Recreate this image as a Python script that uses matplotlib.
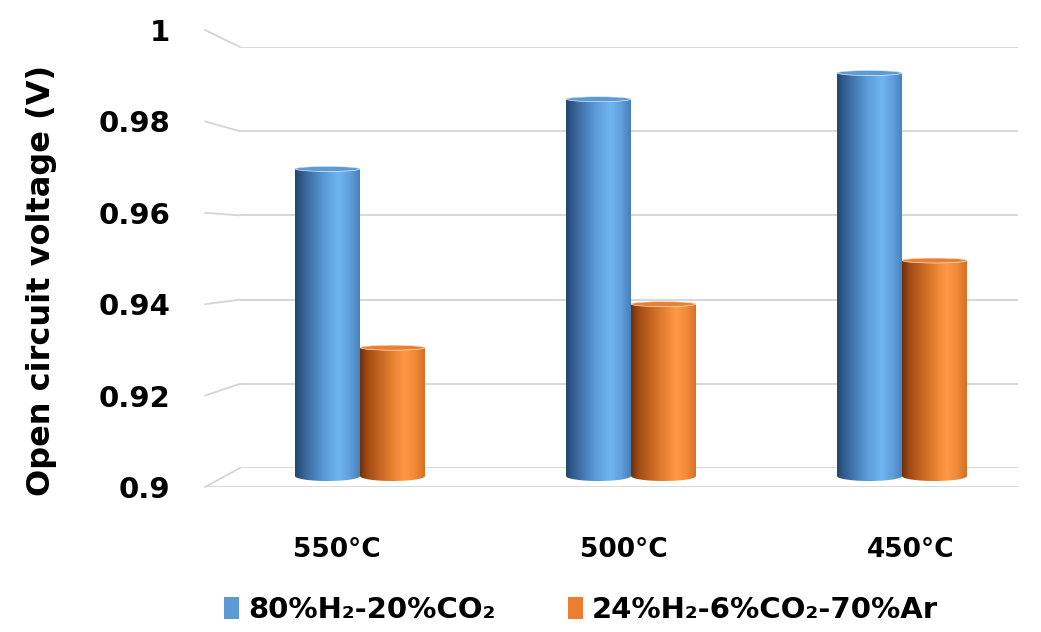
import numpy as np
import matplotlib.pyplot as plt
from matplotlib.colors import LinearSegmentedColormap
from matplotlib.patches import PathPatch, Ellipse, Patch, ConnectionPatch
from matplotlib.path import Path

# datos
temperaturas = ["550°C", "500°C", "450°C"]
ocv_80h2 = [0.971, 0.987, 0.993]
ocv_24h2 = [0.930, 0.940, 0.950]
series = ["80%H₂-20%CO₂", "24%H₂-6%CO₂-70%Ar"]
yticks = [0.9, 0.92, 0.94, 0.96, 0.98, 1.0]
ytick_labels = ["0.9", "0.92", "0.94", "0.96", "0.98", "1"]

W, H = 1041, 632
plt.rcParams['font.family'] = ["DejaVu Sans"]
plt.rcParams['font.weight'] = 'bold'

fig = plt.figure(figsize=(W / 100, H / 100), dpi=100)


def caja(x0, x1, y_top, y_bot):
    # rectangulo en pixeles -> fraccion de figura
    return [x0 / W, 1 - y_bot / H, (x1 - x0) / W, (y_bot - y_top) / H]


# pared del fondo con la reticula
ax_fondo = fig.add_axes(caja(240, 1018, 47, 468))
ax_fondo.set_ylim(0.9, 1.0)
ax_fondo.set_xlim(0, 1)
for v in yticks:
    ax_fondo.axhline(v, color="#d4d4d4", lw=1.3)
ax_fondo.axis("off")

# plano frontal: etiquetas del eje y
ax_lab = fig.add_axes(caja(205, 1018, 30, 487))
ax_lab.set_ylim(0.9, 1.0)
ax_lab.set_xlim(0, 1)
ax_lab.patch.set_alpha(0)
for s in ax_lab.spines.values():
    s.set_visible(False)
ax_lab.set_xticks([])
ax_lab.set_yticks(yticks)
ax_lab.set_yticklabels(ytick_labels, fontsize=21, fontweight="bold")
ax_lab.tick_params(axis="y", length=0, pad=25)
ax_lab.set_ylabel("Open circuit voltage (V)", fontsize=23, fontweight="bold")
ax_lab.yaxis.set_label_coords((57 - 205) / 813, (487 - 280) / 457)
ax_lab.axhline(0.9, color="#d4d4d4", lw=1.3)

# lineas de la pared lateral
for v in yticks:
    con = ConnectionPatch((0, v), (0, v),
                          coordsA=ax_lab.get_yaxis_transform(),
                          coordsB=ax_fondo.get_yaxis_transform(),
                          color="#d4d4d4", lw=1.3)
    fig.add_artist(con)

# cilindros
S = 4360.0  # pixeles por unidad de voltaje en el plano de las barras
base = 0.9
y_min = 0.895
ax = fig.add_axes(caja(240, 1018, 476 - (1.0 - base) * S, 476 + (base - y_min) * S))
ax.set_ylim(y_min, 1.0)
ax.set_xlim(-120 / 271, 658 / 271)
ax.patch.set_alpha(0)
for s in ax.spines.values():
    s.set_visible(False)
ax.set_yticks([])

cmap_azul = LinearSegmentedColormap.from_list(
    "azul", [(0, "#22466d"), (0.12, "#335f92"), (0.45, "#5b9ad8"),
             (0.68, "#71b5f0"), (0.85, "#5e9fdc"), (1, "#477fb9")])
cmap_nar = LinearSegmentedColormap.from_list(
    "naranja", [(0, "#6e300a"), (0.12, "#a24c15"), (0.45, "#e07a2c"),
                (0.68, "#ff9844"), (0.85, "#f08a38"), (1, "#d46f25")])
tapa = {"azul": "#5d9bd6", "naranja": "#eb7f32"}

ancho = 65 / 271
eh = 2.5 / S  # media altura de la elipse
grad = np.linspace(0, 1, 256).reshape(1, -1)
t = np.linspace(0, np.pi, 60)


def cilindro(xc, v, cmap, color_tapa):
    x0, x1 = xc - ancho / 2, xc + ancho / 2
    r = ancho / 2
    fondo = np.column_stack([xc - r * np.cos(t), base - 2 * eh * np.sin(t)])
    arriba = np.column_stack([xc + r * np.cos(t), v - eh + eh * np.sin(t)])
    verts = np.vstack([[x0, v - eh], fondo, arriba, [x0, v - eh]])
    path = Path(verts, closed=True)
    clip = PathPatch(path, transform=ax.transData, facecolor="none", edgecolor="none")
    ax.add_patch(clip)
    img = ax.imshow(grad, cmap=cmap, extent=[x0, x1, base - 3 * eh, v], aspect="auto",
                    interpolation="bicubic", zorder=2)
    img.set_clip_path(clip)
    ax.add_patch(Ellipse((xc, v - eh), ancho * 0.99, 2 * eh, facecolor=color_tapa,
                         edgecolor="#ffffff", lw=0.4, zorder=3))


x = np.arange(len(temperaturas))
for i in range(len(temperaturas)):
    cilindro(x[i] - ancho / 2, ocv_80h2[i], cmap_azul, tapa["azul"])
    cilindro(x[i] + ancho / 2, ocv_24h2[i], cmap_nar, tapa["naranja"])

# las etiquetas del eje x se abren un poco por la perspectiva
x_etiq = (x - 1) * 287 / 271 + 1 - 7 / 271
ax.set_xticks(x_etiq)
ax.set_xticklabels(temperaturas, fontsize=19, fontweight="bold")
ax.tick_params(axis="x", length=0, pad=28)

handles = [Patch(facecolor="#5b9bd5"), Patch(facecolor="#ed7d31")]
fig.legend(handles, series, loc="center", bbox_to_anchor=(581 / W, 1 - 610 / H),
           ncol=2, frameon=False, handlelength=0.5, handleheight=0.75,
           handletextpad=0.3, columnspacing=2.5, prop={"weight": "bold", "size": 21})

fig.savefig("out.png", dpi=100)
